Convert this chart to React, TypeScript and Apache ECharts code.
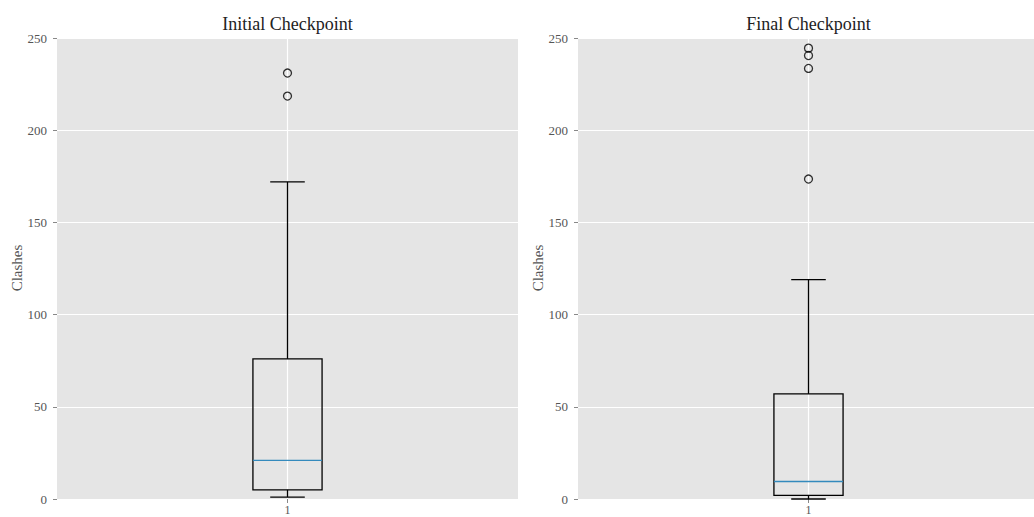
import React, { useEffect, useRef } from "react";
import * as echarts from "echarts";

const panelTitles = ["Initial Checkpoint", "Final Checkpoint"];
const yAxisName = "Clashes";
const yTicks = [0, 50, 100, 150, 200, 250];
const xCategory = [1];
// [position, lowWhisker, q1, median, q3, highWhisker]
const initialBox = [1, 1, 5, 21, 76, 172];
const finalBox = [1, 0, 2, 9.5, 57, 119];
const initialOutliers = [231, 218.5];
const finalOutliers = [244.5, 240.5, 233.5, 173.5];

const FONT = "'Liberation Serif', 'DejaVu Serif', serif";
const BOX_HALF = 0.075;
const CAP_HALF = 0.0375;

function renderBox(params: any, api: any) {
  const x = api.value(0);
  const lo = api.value(1);
  const q1 = api.value(2);
  const med = api.value(3);
  const q3 = api.value(4);
  const hi = api.value(5);
  const p = (a: number, b: number) => api.coord([a, b]);
  const stroke = { stroke: "#000", lineWidth: 1.3, fill: "none" };
  const gTop = p(x, yTicks[yTicks.length - 1]);
  const gBot = p(x, yTicks[0]);
  const bl = p(x - BOX_HALF, q1);
  const tr = p(x + BOX_HALF, q3);
  return {
    type: "group",
    children: [
      { type: "line", shape: { x1: gTop[0], y1: gTop[1], x2: gBot[0], y2: gBot[1] }, style: { stroke: "#fff", lineWidth: 1.2 } },
      { type: "line", shape: { x1: p(x, q3)[0], y1: p(x, q3)[1], x2: p(x, hi)[0], y2: p(x, hi)[1] }, style: stroke },
      { type: "line", shape: { x1: p(x, q1)[0], y1: p(x, q1)[1], x2: p(x, lo)[0], y2: p(x, lo)[1] }, style: stroke },
      { type: "line", shape: { x1: p(x - CAP_HALF, hi)[0], y1: p(x, hi)[1], x2: p(x + CAP_HALF, hi)[0], y2: p(x, hi)[1] }, style: stroke },
      { type: "line", shape: { x1: p(x - CAP_HALF, lo)[0], y1: p(x, lo)[1], x2: p(x + CAP_HALF, lo)[0], y2: p(x, lo)[1] }, style: stroke },
      { type: "rect", shape: { x: bl[0], y: tr[1], width: tr[0] - bl[0], height: bl[1] - tr[1] }, style: stroke },
      { type: "line", shape: { x1: p(x - BOX_HALF, med)[0], y1: p(x, med)[1], x2: p(x + BOX_HALF, med)[0], y2: p(x, med)[1] }, style: { stroke: "#348ABD", lineWidth: 1.3 } },
    ],
  };
}

export default function App() {
  const ref = useRef<HTMLDivElement>(null);
  useEffect(() => {
    document.body.style.margin = "0";
    if (!ref.current) return;
    const chart = echarts.init(ref.current, undefined, { renderer: "svg" });
    const grids = [
      { left: 57, top: 38, width: 461, height: 461 },
      { left: 578, top: 38, width: 461, height: 461 },
    ];
    const xAxes = grids.map((_, i) => ({
      type: "value",
      gridIndex: i,
      min: 0.5,
      max: 1.5,
      axisLine: { show: false },
      splitLine: { show: false },
      axisTick: { show: true, length: 4, customValues: xCategory, lineStyle: { color: "#888" } },
      axisLabel: { customValues: xCategory, color: "#555", fontFamily: FONT, fontSize: 12, margin: 5 },
    }));
    const yAxes = grids.map((_, i) => ({
      type: "value",
      gridIndex: i,
      min: 0,
      max: 250,
      interval: 50,
      axisLine: { show: false },
      splitLine: { show: true, lineStyle: { color: "#fff", width: 1 } },
      axisTick: { show: true, length: 4, lineStyle: { color: "#888" } },
      axisLabel: { color: "#555", fontFamily: FONT, fontSize: 13, margin: 10 },
    }));
    const boxes = [initialBox, finalBox];
    const outs = [initialOutliers, finalOutliers];
    const series: any[] = [];
    boxes.forEach((b, i) => {
      series.push({
        type: "custom",
        xAxisIndex: i,
        yAxisIndex: i,
        renderItem: renderBox,
        data: [b],
        z: 3,
      });
      series.push({
        type: "scatter",
        xAxisIndex: i,
        yAxisIndex: i,
        symbol: "circle",
        symbolSize: 8,
        itemStyle: { color: "rgba(0,0,0,0)", borderColor: "#000", borderWidth: 1.3 },
        data: outs[i].map((v) => [b[0], v]),
        z: 4,
      });
    });
    const centers = [57 + 461 / 2, 578 + 461 / 2];
    chart.setOption({
      animation: false,
      backgroundColor: "#fff",
      grid: grids.map((g) => ({ ...g, show: true, backgroundColor: "#E5E5E5", borderWidth: 0, outerBoundsMode: "none", containLabel: false })),
      xAxis: xAxes,
      yAxis: yAxes,
      series,
      graphic: [
        ...panelTitles.map((t, i) => ({
          type: "text",
          x: centers[i],
          y: 24,
          style: { text: t, fill: "#222", font: `18px ${FONT}`, textAlign: "center", textVerticalAlign: "middle" },
        })),
        ...[17, 538].map((x) => ({
          type: "text",
          x,
          y: 268,
          rotation: Math.PI / 2,
          style: { text: yAxisName, fill: "#555", font: `15px ${FONT}`, textAlign: "center", textVerticalAlign: "middle" },
        })),
      ],
    });
    return () => chart.dispose();
  }, []);
  return <div ref={ref} style={{ width: 1034, height: 517 }} />;
}
